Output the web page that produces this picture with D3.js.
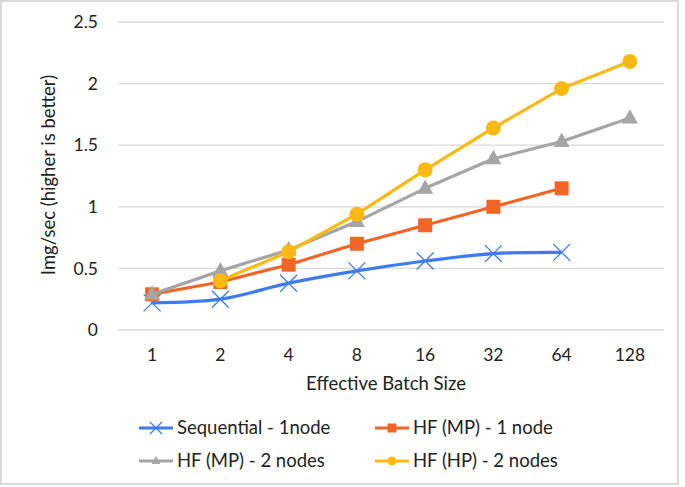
<!DOCTYPE html>
<html><head><meta charset="utf-8">
<script src="https://cdn.jsdelivr.net/npm/d3@7"></script>
<style>body{margin:0;background:#fff;} text{font-family:Lato, "Open Sans", sans-serif; fill:#222;}</style>
</head><body>
<svg id="c" width="685" height="487"></svg>
<script>
const categories = ["1","2","4","8","16","32","64","128"];
const seqOneNode = [0.22,0.25,0.38,0.48,0.56,0.62,0.63,null];
const mpOneNode = [0.29,0.39,0.53,0.70,0.85,1.00,1.15,null];
const mpTwoNodes = [0.29,0.48,0.65,0.88,1.15,1.39,1.53,1.72];
const hpTwoNodes = [null,0.40,0.635,0.94,1.30,1.64,1.96,2.18];
const yTicks = [0,0.5,1,1.5,2,2.5];
const seriesNames = ["Sequential - 1node","HF (MP) - 1 node","HF (MP) - 2 nodes","HF (HP) - 2 nodes"];

const colors = ["#3D7BEF","#F36526","#A5A5A5","#FDB913"];
const markers = ["x","square","triangle","circle"];
const allSeries = [seqOneNode, mpOneNode, mpTwoNodes, hpTwoNodes];

const svg = d3.select("#c");
svg.append("rect").attr("x",1).attr("y",1).attr("width",677).attr("height",483)
  .attr("fill","#fff").attr("stroke","#d9d9d9").attr("stroke-width",2);

const x = d3.scaleBand().domain(categories).range([118,664]);
const y = d3.scaleLinear().domain([0,2.5]).range([330,22]);

svg.append("g").selectAll("line").data(yTicks).join("line")
  .attr("x1",118).attr("x2",664).attr("y1",d=>y(d)).attr("y2",d=>y(d))
  .attr("stroke","#d9d9d9").attr("stroke-width",1.3);

svg.append("g").selectAll("text").data(yTicks).join("text")
  .attr("x",98).attr("y",d=>y(d)).attr("dy","0.35em").attr("text-anchor","end")
  .attr("font-size",17.5).text(d=>d);

svg.append("g").selectAll("text").data(categories).join("text")
  .attr("x",d=>x(d)+x.bandwidth()/2).attr("y",355).attr("dy","0.35em").attr("text-anchor","middle")
  .attr("font-size",17.5).text(d=>d);

svg.append("text").attr("x",386).attr("y",384).attr("dy","0.35em").attr("text-anchor","middle")
  .attr("font-size",18.5).text("Effective Batch Size");
svg.append("text").attr("transform","translate(49,175) rotate(-90)").attr("dy","0.35em")
  .attr("text-anchor","middle").attr("font-size",18.5).text("Img/sec (higher is better)");

function drawMarker(g, type, cx, cy, color, s){
  if(type==="x"){
    const h=s/2;
    g.append("path").attr("d",`M${cx-h},${cy-h}L${cx+h},${cy+h}M${cx-h},${cy+h}L${cx+h},${cy-h}`)
      .attr("stroke",color).attr("stroke-width",1.3).attr("fill","none");
  } else if(type==="square"){
    g.append("rect").attr("x",cx-s/2).attr("y",cy-s/2).attr("width",s).attr("height",s).attr("fill",color);
  } else if(type==="triangle"){
    const h=s*0.9;
    g.append("path").attr("d",`M${cx},${cy-h*0.62}L${cx+s/2},${cy+h*0.38}L${cx-s/2},${cy+h*0.38}Z`).attr("fill",color);
  } else {
    g.append("circle").attr("cx",cx).attr("cy",cy).attr("r",s/2).attr("fill",color);
  }
}

const sizes=[17,14,16,15];
allSeries.forEach((vals,i)=>{
  const pts = categories.map((c,j)=>({c,v:vals[j]})).filter(p=>p.v!==null);
  const line = d3.line().x(p=>x(p.c)+x.bandwidth()/2).y(p=>y(p.v))
    .curve(i===0 ? d3.curveCatmullRom.alpha(0) : d3.curveLinear);
  const g = svg.append("g");
  g.append("path").attr("d",line(pts)).attr("fill","none").attr("stroke",colors[i]).attr("stroke-width",3.2)
    .attr("stroke-linejoin","round");
  pts.forEach(p=>drawMarker(g,markers[i],x(p.c)+x.bandwidth()/2,y(p.v),colors[i],sizes[i]));
});

const legPos=[[139,428],[375,428],[139,461],[375,461]];
seriesNames.forEach((name,i)=>{
  const [lx,ly]=legPos[i];
  const g=svg.append("g");
  g.append("line").attr("x1",lx).attr("x2",lx+34).attr("y1",ly).attr("y2",ly)
    .attr("stroke",colors[i]).attr("stroke-width",3.2);
  drawMarker(g,markers[i],lx+17,ly,colors[i],i===0?12:9);
  g.append("text").attr("x",lx+38).attr("y",ly).attr("dy","0.35em").attr("font-size",18.5).text(name);
});
</script>
</body></html>
